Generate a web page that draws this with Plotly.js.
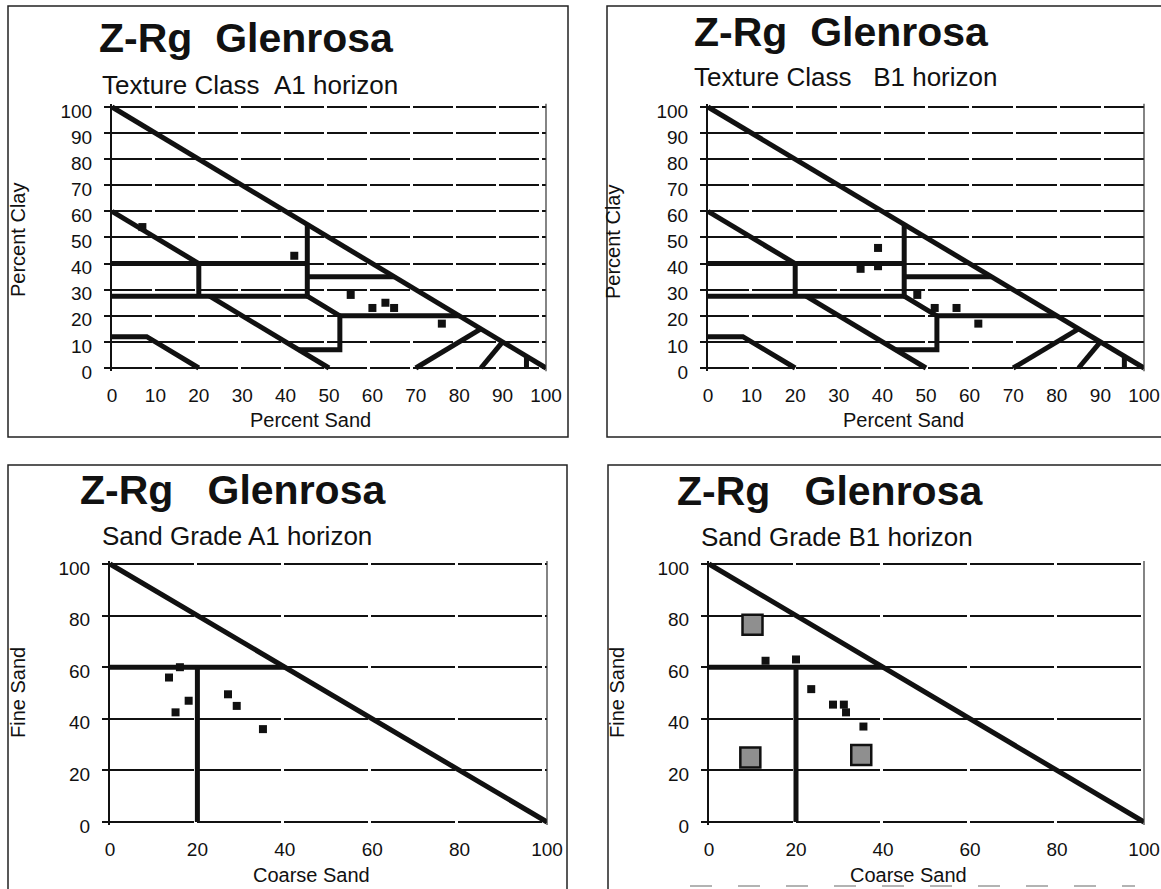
<!DOCTYPE html>
<html>
<head>
<meta charset="utf-8">
<script src="https://cdn.plot.ly/plotly-3.0.1.min.js"></script>
<style>
html, body { margin: 0; padding: 0; background: #ffffff; }
#chart { width: 1161px; height: 889px; }
</style>
</head>
<body>
<div id="chart"></div>
<script>
// USDA texture class boundaries: percent sand (x) vs percent clay (y), null breaks segments
const textureBoundarySand = [0, 100, null, 0, 20, null, 0, 45, null, 20, 20, null, 0, 45, null,
  45, 45, null, 45, 65, null, 45, 52.5, 52.5, 43, null, 52.5, 80, null, 22.5, 50, null,
  0, 8, 20, null, 70, 85, null, 85, 90, null, 95.5, 95.5];
const textureBoundaryClay = [100, 0, null, 60, 40, null, 40, 40, null, 40, 27.5, null, 27.5, 27.5, null,
  55, 27.5, null, 35, 35, null, 27.5, 20, 7, 7, null, 20, 20, null, 27.5, 0, null,
  12, 12, 0, null, 0, 15, null, 0, 10, null, 0, 4.5];

// Sand grade boundaries: coarse sand (x) vs fine sand (y)
const gradeBoundaryCoarse = [0, 100, null, 0, 40, null, 20, 20];
const gradeBoundaryFine = [100, 0, null, 60, 60, null, 60, 0];

// Texture, A1 horizon
const a1Sand = [7, 42, 55, 60, 63, 65, 76];
const a1Clay = [54, 43, 28, 23, 25, 23, 17];

// Texture, B1 horizon
const b1Sand = [39, 35, 39, 48, 52, 57, 62];
const b1Clay = [46, 38, 39, 28, 23, 23, 17];

// Sand grade, A1 horizon
const a1Coarse = [13.5, 15, 18, 27, 29, 35, 16];
const a1Fine = [56, 42.5, 47, 49.5, 45, 36, 60];

// Sand grade, B1 horizon
const b1Coarse = [13, 20, 23.5, 28.5, 31, 31.5, 35.5];
const b1Fine = [62.5, 63, 51.5, 45.5, 45.5, 42.5, 37];

// Sand grade, B1 horizon: larger grey markers
const b1RefCoarse = [10, 9.5, 35];
const b1RefFine = [76.5, 25, 26];

// Tick values
const textureTicks = [0, 10, 20, 30, 40, 50, 60, 70, 80, 90, 100];
const gradeTicks = [0, 20, 40, 60, 80, 100];

// Panel texts
const mainTitles = ['Z-Rg\u00a0\u00a0Glenrosa', 'Z-Rg\u00a0\u00a0Glenrosa',
  'Z-Rg\u00a0\u00a0\u00a0Glenrosa', 'Z-Rg\u00a0\u00a0\u00a0Glenrosa'];
const subTitles = ['Texture Class\u00a0\u00a0A1 horizon', 'Texture Class\u00a0\u00a0\u00a0B1 horizon',
  'Sand Grade A1 horizon', 'Sand Grade B1 horizon'];
const xTitles = ['Percent Sand', 'Percent Sand', 'Coarse Sand', 'Coarse Sand'];
const yTitles = ['Percent Clay', 'Percent Clay', 'Fine Sand', 'Fine Sand'];

// ---- page geometry (pixels) ----
const W = 1161, H = 889;
const px = v => v / W;
const py = v => 1 - v / H;

// pixel positions of 0 and 100 on each panel: [x0, x100, y100, y0]
const plots = [
  [112, 546, 107, 368],
  [708, 1144, 107, 368],
  [110, 547, 564, 822],
  [709, 1144, 564, 822]
];
// y range padded slightly so the 0 and 100 gridlines are drawn inside the plot
const yPad = 1.2;
// frames: [left, right, top, bottom]
const frames = [
  [8, 568, 6, 437],
  [607, 1170, 6, 437],
  [8, 567, 465, 900],
  [608, 1170, 465, 900]
];
// text anchors
const mainPos = [[97, 38], [692, 32], [78, 490], [675, 491]];
const subPos = [[100, 85], [692, 77], [100, 536], [699, 537]];
const xTitlePos = [[310, 420], [903, 420], [311, 875], [909, 875]];
const yTitlePos = [[18, 240], [613, 242], [18, 693], [617, 693]];

const ink = '#111111';
const font = '"Liberation Sans", Arial, Helvetica, sans-serif';

const traces = [];
const axisIds = ['', '2', '3', '4'];

function boundary(xs, ys, k) {
  return {
    type: 'scatter', mode: 'lines', x: xs, y: ys,
    xaxis: 'x' + axisIds[k], yaxis: 'y' + axisIds[k],
    line: { color: ink, width: 5 }, connectgaps: false,
    hoverinfo: 'skip', showlegend: false
  };
}
function samples(xs, ys, k, size, fill, lineW) {
  return {
    type: 'scatter', mode: 'markers', x: xs, y: ys,
    xaxis: 'x' + axisIds[k], yaxis: 'y' + axisIds[k],
    marker: { symbol: 'square', size: size, color: fill, line: { color: ink, width: lineW } },
    cliponaxis: false, showlegend: false
  };
}

traces.push(boundary(textureBoundarySand, textureBoundaryClay, 0));
traces.push(samples(a1Sand, a1Clay, 0, 8, ink, 0));
traces.push(boundary(textureBoundarySand, textureBoundaryClay, 1));
traces.push(samples(b1Sand, b1Clay, 1, 8, ink, 0));
traces.push(boundary(gradeBoundaryCoarse, gradeBoundaryFine, 2));
traces.push(samples(a1Coarse, a1Fine, 2, 8, ink, 0));
traces.push(boundary(gradeBoundaryCoarse, gradeBoundaryFine, 3));
traces.push(samples(b1Coarse, b1Fine, 3, 8, ink, 0));
traces.push(samples(b1RefCoarse, b1RefFine, 3, 20, '#8f8f8f', 2.5));

const layout = {
  width: W, height: H,
  margin: { l: 0, r: 0, t: 0, b: 0, pad: 0 },
  paper_bgcolor: '#ffffff', plot_bgcolor: '#ffffff',
  font: { family: font, color: ink },
  showlegend: false,
  shapes: [], annotations: []
};

plots.forEach((p, k) => {
  const ticks = k < 2 ? textureTicks : gradeTicks;
  const step = (p[1] - p[0]) / (ticks.length - 1);
  const dash = Math.round(step - 3) + 'px,3px';
  const u = (p[3] - p[2]) / 100;
  const xa = {
    domain: [px(p[0]), px(p[1])], anchor: 'y' + axisIds[k],
    range: [0, 100], tickvals: ticks, ticktext: ticks.map(String),
    showgrid: false, zeroline: false, showline: false, ticks: '',
    tickfont: { size: 19, color: ink, family: font },
    ticklabelstandoff: Math.round(14 - yPad * u), fixedrange: true
  };
  const ya = {
    domain: [py(p[3] + yPad * u), py(p[2] - yPad * u)], anchor: 'x' + axisIds[k],
    range: [-yPad, 100 + yPad], tickvals: ticks, ticktext: ticks.map(String),
    showgrid: true, gridcolor: ink, gridwidth: 2, griddash: dash,
    zeroline: false, showline: true, linecolor: ink, linewidth: 2,
    ticks: 'outside', ticklen: 6, tickwidth: 2, tickcolor: ink,
    tickfont: { size: 19, color: ink, family: font },
    ticklabelstandoff: 8, ticklabelshift: 4, fixedrange: true
  };
  layout['xaxis' + axisIds[k]] = xa;
  layout['yaxis' + axisIds[k]] = ya;

  // right edge of the plot area
  layout.shapes.push({
    type: 'line', xref: 'x' + axisIds[k] + ' domain', yref: 'y' + axisIds[k] + ' domain',
    layer: 'above', x0: 1, x1: 1, y0: 0, y1: 1, line: { color: '#333333', width: 1.2 }
  });

  // panel frame
  const f = frames[k];
  layout.shapes.push({
    type: 'rect', xref: 'paper', yref: 'paper',
    x0: px(f[0]), x1: px(f[1]), y0: py(f[3]), y1: py(f[2]),
    line: { color: '#222222', width: 1.5 }, fillcolor: 'rgba(0,0,0,0)'
  });

  layout.annotations.push({
    xref: 'paper', yref: 'paper', x: px(mainPos[k][0]), y: py(mainPos[k][1]),
    xanchor: 'left', yanchor: 'middle', showarrow: false, text: mainTitles[k],
    font: { size: 41, family: font, color: ink, weight: 'bold' }
  });
  layout.annotations.push({
    xref: 'paper', yref: 'paper', x: px(subPos[k][0]), y: py(subPos[k][1]),
    xanchor: 'left', yanchor: 'middle', showarrow: false, text: subTitles[k],
    font: { size: 26, family: font, color: ink }
  });
  layout.annotations.push({
    xref: 'paper', yref: 'paper', x: px(xTitlePos[k][0]), y: py(xTitlePos[k][1]),
    xanchor: 'center', yanchor: 'middle', showarrow: false, text: xTitles[k],
    font: { size: 20, family: font, color: ink }
  });
  layout.annotations.push({
    xref: 'paper', yref: 'paper', x: px(yTitlePos[k][0]), y: py(yTitlePos[k][1]),
    xanchor: 'center', yanchor: 'middle', showarrow: false, text: yTitles[k],
    textangle: -90, font: { size: 20, family: font, color: ink }
  });
});

// faint dashed edge along the bottom of the lower right panel
layout.shapes.push({
  type: 'line', xref: 'paper', yref: 'paper',
  x0: px(690), x1: px(1135), y0: py(886), y1: py(886),
  line: { color: '#9a9a9a', width: 1.5, dash: '22px,26px' }
});

Plotly.newPlot('chart', traces, layout, { staticPlot: true, displayModeBar: false });
</script>
</body>
</html>
